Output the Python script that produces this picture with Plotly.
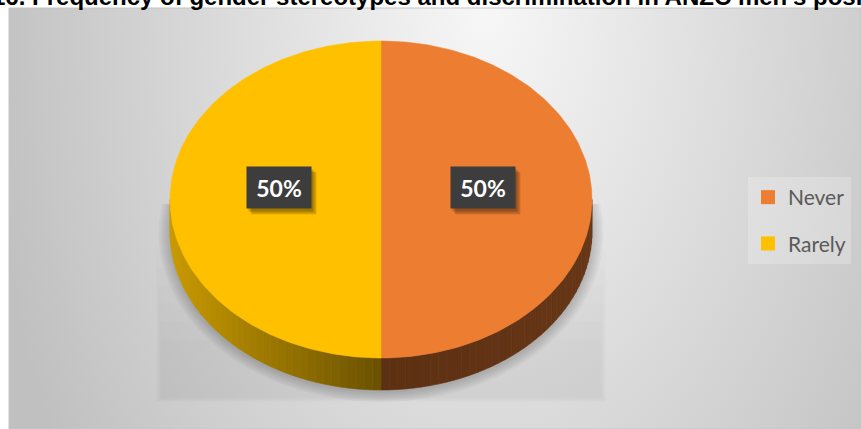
import base64
import numpy as np
import plotly.graph_objects as go

# ---------------- data ----------------
categories = ["Never", "Rarely"]
shares = [50, 50]
top_colors = ["#ED7D31", "#FFC000"]
# side-wall shading for each slice: (colour toward the front, colour at the outer end)
side_colors = [("#5c3012", "#673616"), ("#6a5100", "#c99a00")]
title_text = "16. Frequency of gender stereotypes and discrimination in ANZC men's positions"

# ---------------- layout constants ----------------
W, H = 861, 429
CX, CY = 381, 199.5          # centre of the top face
RX, RY = 211, 158.5          # radii of the top face
DEPTH = 32                   # thickness of the disc
LABEL_R, LABEL_LIFT = 0.485, 12.5


def ell(t_deg, rx=RX, ry=RY, cx=CX, cy=CY):
    """Point(s) on an ellipse, angle measured clockwise from 12 o'clock."""
    t = np.radians(t_deg)
    return cx + rx * np.sin(t), cy - ry * np.cos(t)


def hex_rgb(h):
    h = h.lstrip("#")
    return np.array([int(h[i:i + 2], 16) for i in (0, 2, 4)], dtype=float)


def mix(c0, c1, f):
    c = hex_rgb(c0) * (1 - f) + hex_rgb(c1) * f
    return "rgb(%d,%d,%d)" % tuple(np.round(c).astype(int))


total = float(sum(shares))
bounds = np.concatenate([[0.0], np.cumsum(shares) / total * 360.0])

fig = go.Figure()

# ---------------- soft shadow under the disc ----------------
sx0, sx1 = CX - RX - 14, CX + RX + 14
for k in range(6):
    top = CY + 50 + k * 18
    bot = CY + DEPTH + RY + 12 - k * 0.8
    fig.add_trace(go.Scatter(
        x=[sx0 + k, sx1 - k, sx1 - k, sx0 + k, sx0 + k], y=[top, top, bot, bot, top],
        mode="lines", fill="toself", fillcolor="rgba(0,0,0,0.009)",
        line=dict(width=0), hoverinfo="skip", showlegend=False))

tt = np.linspace(80, 280, 120)
for i in range(6):
    hx, hy = ell(tt, rx=RX + 1.5 + 2.0 * i, ry=RY + 1.5 + 1.8 * i, cy=CY + DEPTH + 1.5)
    fig.add_trace(go.Scatter(
        x=np.append(hx, hx[0]), y=np.append(hy, hy[0]),
        mode="lines", fill="toself", fillcolor="rgba(0,0,0,0.03)",
        line=dict(width=0), hoverinfo="skip", showlegend=False))

# ---------------- side walls (front half only) ----------------
for i, cat in enumerate(categories):
    a0, a1 = bounds[i], bounds[i + 1]
    lo, hi = max(a0, 90.0), min(a1, 270.0)
    if lo >= hi:
        continue
    edges = np.linspace(lo, hi, 41)
    front, outer = side_colors[i]
    for s0, s1 in zip(edges[:-1], edges[1:]):
        ts = np.linspace(s0, s1, 4)
        ux, uy = ell(ts)
        bx, by = ell(ts[::-1], cy=CY + DEPTH)
        f = abs(np.sin(np.radians((s0 + s1) / 2)))
        col = mix(front, outer, f)
        fig.add_trace(go.Scatter(
            x=np.concatenate([ux, bx, ux[:1]]), y=np.concatenate([uy, by, uy[:1]]),
            mode="lines", fill="toself", fillcolor=col,
            line=dict(width=0.6, color=col), hoverinfo="skip", showlegend=False))

# ---------------- top faces ----------------
for i, cat in enumerate(categories):
    a0, a1 = bounds[i], bounds[i + 1]
    ts = np.linspace(a0, a1, 200)
    px, py = ell(ts)
    fig.add_trace(go.Scatter(
        x=np.concatenate([[CX], px, [CX]]), y=np.concatenate([[CY], py, [CY]]),
        mode="lines", fill="toself", fillcolor=top_colors[i],
        line=dict(width=0.5, color=top_colors[i]), hoverinfo="skip",
        showlegend=False, name=cat))

# ---------------- legend entries ----------------
for i, cat in enumerate(categories):
    fig.add_trace(go.Scatter(
        x=[None], y=[None], mode="markers", name=cat, legendgroup=cat,
        marker=dict(symbol="square", size=14, color=top_colors[i]),
        hoverinfo="skip"))

# ---------------- data labels ----------------
annotations = []
for i, cat in enumerate(categories):
    mid = (bounds[i] + bounds[i + 1]) / 2
    lx, ly = ell(mid, rx=RX * LABEL_R, ry=RY * LABEL_R)
    ly -= LABEL_LIFT
    txt = "%.0f%%" % (shares[i] / total * 100)
    for dx, dy, a in [(5, 6, 0.10), (4, 5, 0.14), (2, 3, 0.18)]:
        annotations.append(dict(
            x=lx, y=ly, xref="x", yref="y", text=" ", showarrow=False,
            width=64, height=41, borderpad=0, xshift=dx, yshift=-dy,
            bgcolor="rgba(0,0,0,%.2f)" % a))
    annotations.append(dict(
        x=lx, y=ly, xref="x", yref="y", text="<b>%s</b>" % txt, showarrow=False,
        width=64, height=41, borderpad=0, align="center", valign="middle",
        bgcolor="#3d3d3d",
        font=dict(family="Lato", size=23, color="white")))

# title (runs off the top edge of the canvas)
annotations.append(dict(
    x=-9 / W, y=1 - 11 / H, xref="paper", yref="paper", xanchor="left",
    yanchor="bottom", text="<b>%s</b>" % title_text, showarrow=False,
    borderpad=0, font=dict(family="Liberation Sans", size=24, color="black")))

# ---------------- background gradient ----------------
svg = (
    "<svg xmlns='http://www.w3.org/2000/svg' width='852' height='421' "
    "viewBox='0 0 852 421' preserveAspectRatio='none'><defs>"
    "<radialGradient id='g' cx='0.56' cy='0' r='0.6' "
    "gradientTransform='translate(0.56 0) scale(1 3.2) translate(-0.56 0)'>"
    "<stop offset='0' stop-color='#f7f7f7'/><stop offset='1' stop-color='#c0c0c0'/>"
    "</radialGradient></defs><rect width='852' height='421' fill='url(#g)'/></svg>"
)
bg_src = "data:image/svg+xml;base64," + base64.b64encode(svg.encode()).decode()

fig.update_layout(
    width=W, height=H,
    margin=dict(l=0, r=0, t=0, b=0),
    paper_bgcolor="white", plot_bgcolor="rgba(0,0,0,0)",
    xaxis=dict(range=[0, W], visible=False, fixedrange=True),
    yaxis=dict(range=[H, 0], visible=False, fixedrange=True),
    images=[dict(source=bg_src, xref="paper", yref="paper",
                 x=9 / W, y=1 - 8 / H, sizex=852 / W, sizey=421 / H,
                 xanchor="left", yanchor="top", sizing="stretch", layer="below")],
    shapes=[dict(type="rect", xref="paper", yref="paper",
                 x0=9 / W, y0=0, x1=1, y1=1 - 8 / H,
                 line=dict(color="#c4c4c4", width=1), layer="below")],
    annotations=annotations,
    showlegend=True,
    legend=dict(x=748 / W, y=1 - 177 / H, xanchor="left", yanchor="top",
                bgcolor="rgba(255,255,255,0.22)", borderwidth=0,
                tracegroupgap=16, font=dict(family="Lato", size=21, color="#595959")),
    hovermode=False,
)

fig.write_html("out.html", config={"displayModeBar": False})
